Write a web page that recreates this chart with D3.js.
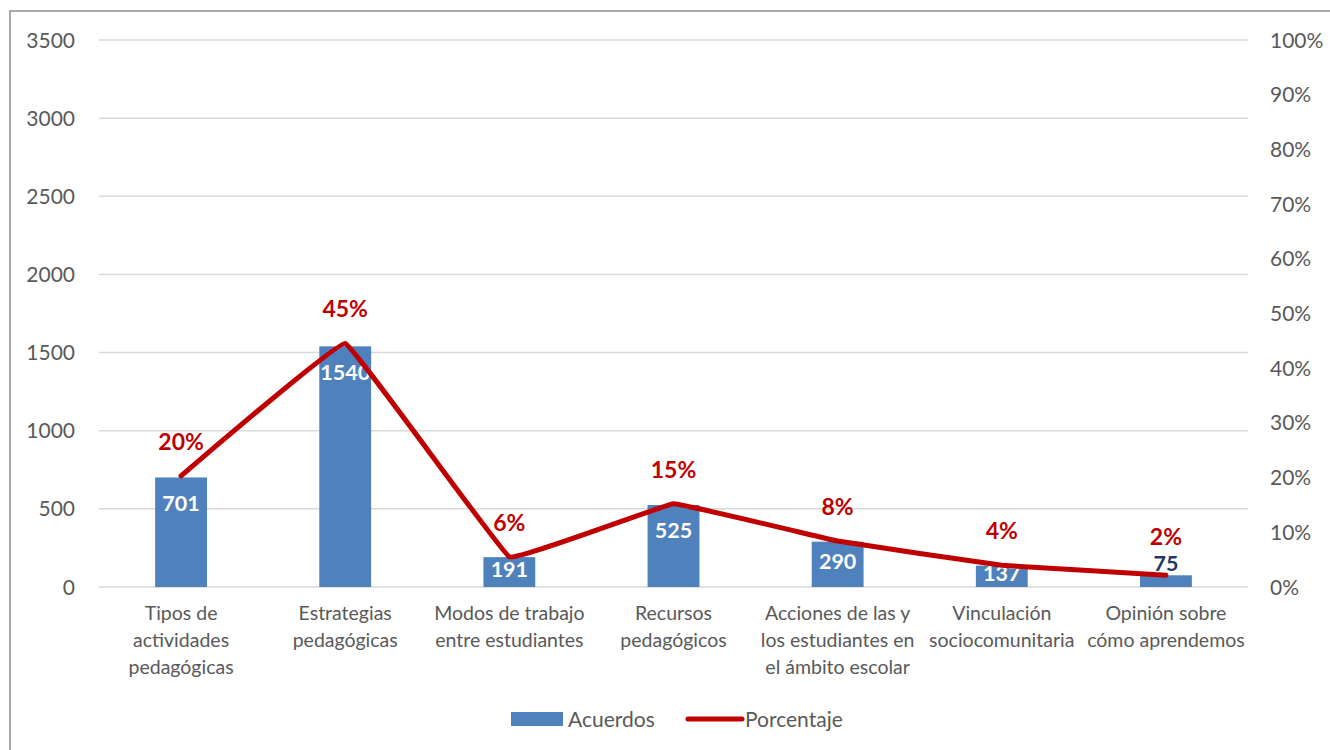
<!DOCTYPE html>
<html>
<head>
<meta charset="utf-8">
<script src="https://cdn.jsdelivr.net/npm/d3@7"></script>
<style>
  body { margin: 0; background: #fff; }
  text { font-family: Lato, "Open Sans", sans-serif; }
</style>
</head>
<body>
<div id="chart"></div>
<script>
// data
const categories = [
  ['Tipos de', 'actividades', 'pedagógicas'],
  ['Estrategias', 'pedagógicas'],
  ['Modos de trabajo', 'entre estudiantes'],
  ['Recursos', 'pedagógicos'],
  ['Acciones de las y', 'los estudiantes en', 'el ámbito escolar'],
  ['Vinculación', 'sociocomunitaria'],
  ['Opinión sobre', 'cómo aprendemos']
];
const acuerdos = [701, 1540, 191, 525, 290, 137, 75];
const porcentaje = [0.203, 0.4452, 0.0552, 0.152, 0.084, 0.0396, 0.0217];
const leftTicks = [0, 500, 1000, 1500, 2000, 2500, 3000, 3500];
const rightTicks = [0, 0.1, 0.2, 0.3, 0.4, 0.5, 0.6, 0.7, 0.8, 0.9, 1];
const seriesNames = ['Acuerdos', 'Porcentaje'];

const width = 1330, height = 750;
const margin = {top: 40, right: 82, bottom: 163, left: 99};
const innerW = width - margin.left - margin.right;
const innerH = height - margin.top - margin.bottom;

const barColor = '#4F81BD';
const lineColor = '#C00000';
const textGrey = '#595959';

const svg = d3.select('#chart').append('svg')
  .attr('width', width)
  .attr('height', height);

// chart frame
svg.append('rect')
  .attr('x', 10).attr('y', 11)
  .attr('width', width + 10).attr('height', height + 10)
  .attr('fill', 'none')
  .attr('stroke', '#8c8c8c')
  .attr('stroke-width', 1.5);

const g = svg.append('g')
  .attr('transform', `translate(${margin.left},${margin.top})`);

const x = d3.scaleBand()
  .domain(d3.range(categories.length))
  .range([0, innerW])
  .paddingInner(0.684)
  .paddingOuter(0.342);

const y = d3.scaleLinear().domain([0, 3500]).range([innerH, 0]);
const yR = d3.scaleLinear().domain([0, 1]).range([innerH, 0]);

// gridlines
g.selectAll('.grid')
  .data(leftTicks)
  .enter().append('line')
    .attr('class', 'grid')
    .attr('x1', 0).attr('x2', innerW)
    .attr('y1', d => y(d)).attr('y2', d => y(d))
    .attr('stroke', '#D9D9D9')
    .attr('stroke-width', 1.5);

// left axis labels
g.selectAll('.ly')
  .data(leftTicks)
  .enter().append('text')
    .attr('class', 'ly')
    .attr('x', -24)
    .attr('y', d => y(d))
    .attr('dy', '0.36em')
    .attr('text-anchor', 'end')
    .attr('font-size', 21)
    .attr('fill', textGrey)
    .text(d => d);

// right axis labels
g.selectAll('.ry')
  .data(rightTicks)
  .enter().append('text')
    .attr('class', 'ry')
    .attr('x', innerW + 22)
    .attr('y', d => yR(d))
    .attr('dy', '0.36em')
    .attr('text-anchor', 'start')
    .attr('font-size', 21)
    .attr('fill', textGrey)
    .text(d3.format('.0%'));

// bars
g.selectAll('.bar')
  .data(acuerdos)
  .enter().append('rect')
    .attr('class', 'bar')
    .attr('x', (d, i) => x(i))
    .attr('y', d => y(d))
    .attr('width', x.bandwidth())
    .attr('height', d => innerH - y(d))
    .attr('fill', barColor);

// bar labels (inside end, or above when the bar is too short)
g.selectAll('.barlabel')
  .data(acuerdos)
  .enter().append('text')
    .attr('class', 'barlabel')
    .attr('x', (d, i) => x(i) + x.bandwidth() / 2)
    .attr('y', d => {
      const top = y(d);
      if (innerH - top < 16) return top - 4;
      return Math.min(top + 26, (top + innerH) / 2 - 3) + 7.5;
    })
    .attr('text-anchor', 'middle')
    .attr('font-size', 21.5)
    .attr('font-weight', 'bold')
    .attr('fill', d => (innerH - y(d) < 16) ? '#1F3864' : '#fff')
    .text(d => d);

// percentage line (very light smoothing)
const line = d3.line()
  .x((d, i) => x(i) + x.bandwidth() / 2)
  .y(d => yR(d))
  .curve(d3.curveCardinal.tension(0.85));

g.append('path')
  .datum(porcentaje)
  .attr('d', line)
  .attr('fill', 'none')
  .attr('stroke', lineColor)
  .attr('stroke-width', 5)
  .attr('stroke-linecap', 'round')
  .attr('stroke-linejoin', 'round');

g.selectAll('.pctlabel')
  .data(porcentaje)
  .enter().append('text')
    .attr('class', 'pctlabel')
    .attr('x', (d, i) => x(i) + x.bandwidth() / 2)
    .attr('y', (d, i) => yR(d) - (i === porcentaje.length - 1 ? 30 : 26))
    .attr('text-anchor', 'middle')
    .attr('font-size', 23)
    .attr('font-weight', 'bold')
    .attr('fill', lineColor)
    .text(d3.format('.0%'));

// category labels
const cat = g.selectAll('.cat')
  .data(categories)
  .enter().append('text')
    .attr('class', 'cat')
    .attr('x', (d, i) => x(i) + x.bandwidth() / 2)
    .attr('y', innerH + 33)
    .attr('text-anchor', 'middle')
    .attr('font-size', 19.5)
    .attr('fill', textGrey);

cat.selectAll('tspan')
  .data(d => d)
  .enter().append('tspan')
    .attr('x', function () { return d3.select(this.parentNode).attr('x'); })
    .attr('dy', (d, i) => i === 0 ? 0 : 27)
    .text(d => d);

// legend
const legend = svg.append('g').attr('transform', 'translate(511,719)');
legend.append('rect')
  .attr('x', 0).attr('y', -7)
  .attr('width', 52).attr('height', 14)
  .attr('fill', barColor);
legend.append('text')
  .attr('x', 57).attr('y', 0).attr('dy', '0.36em')
  .attr('font-size', 21).attr('fill', textGrey)
  .text(seriesNames[0]);
legend.append('line')
  .attr('x1', 177).attr('x2', 231)
  .attr('y1', 0).attr('y2', 0)
  .attr('stroke', lineColor)
  .attr('stroke-width', 5)
  .attr('stroke-linecap', 'round');
legend.append('text')
  .attr('x', 234).attr('y', 0).attr('dy', '0.36em')
  .attr('font-size', 21).attr('fill', textGrey)
  .text(seriesNames[1]);
</script>
</body>
</html>
